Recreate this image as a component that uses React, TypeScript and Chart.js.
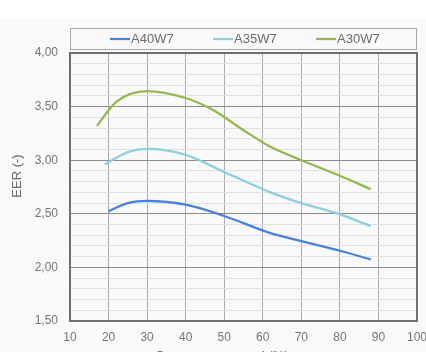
import React, { useEffect, useRef } from "react";
import { Chart, registerables } from "chart.js";

Chart.register(...registerables);

// ---- Data ----
const seriesNames = ["A40W7", "A35W7", "A30W7"];
const seriesColors = ["#4a80d8", "#8dcfe2", "#94b84e"];

const xA40 = [20, 25, 30, 40, 50, 62, 70, 80, 88];
const yA40 = [2.525, 2.6, 2.62, 2.585, 2.48, 2.32, 2.245, 2.155, 2.075];

const xA35 = [19, 25, 30, 40, 50, 62, 70, 80, 88];
const yA35 = [2.96, 3.075, 3.105, 3.05, 2.89, 2.7, 2.6, 2.495, 2.385];

const xA30 = [17, 22, 30, 40, 47, 55, 62, 70, 80, 88];
const yA30 = [3.32, 3.545, 3.645, 3.58, 3.47, 3.28, 3.125, 3.0, 2.855, 2.73];

const xMin = 10;
const xMax = 100;
const xStep = 10;
const yMin = 1.5;
const yMax = 4.0;
const yMinorStep = 0.1;
const yMajorStep = 0.5;

const yTitle = "EER (-)";
const xTitle = "Compressor speed (%)";

const FONT = "'Liberation Sans', Arial, sans-serif";
const TEXT_COLOR = "#767676";

const isMajor = (v: number) =>
  Math.abs(v / yMajorStep - Math.round(v / yMajorStep)) < 1e-6;
const fmt = (v: number) => v.toFixed(2).replace(".", ",");

export default function App() {
  const ref = useRef<HTMLCanvasElement>(null);

  useEffect(() => {
    if (!ref.current) return;

    const decor = {
      id: "decor",
      beforeDraw(chart: any) {
        const ctx = chart.ctx;
        ctx.save();
        ctx.fillStyle = "#ffffff";
        ctx.fillRect(0, 0, chart.width, chart.height);
        ctx.fillStyle = "#f9f9f9";
        ctx.fillRect(0, 18, chart.width, chart.height - 18);
        ctx.restore();
      },
      beforeDatasetsDraw(chart: any) {
        const ctx = chart.ctx;
        const { left, top, right, bottom } = chart.chartArea;
        ctx.save();
        ctx.strokeStyle = "#707070";
        ctx.lineWidth = 2;
        ctx.strokeRect(left, top, right - left, bottom - top);
        ctx.restore();
      },
      afterDraw(chart: any) {
        const ctx = chart.ctx;
        const { left, right } = chart.chartArea;
        ctx.save();
        // legend box
        ctx.strokeStyle = "#a8a8a8";
        ctx.lineWidth = 1;
        ctx.strokeRect(left + 0.5, 28.5, right - left - 1, 21);
        // legend items
        const starts = [110, 213, 316];
        ctx.font = `13px ${FONT}`;
        ctx.textBaseline = "middle";
        ctx.textAlign = "left";
        seriesNames.forEach((name, i) => {
          ctx.strokeStyle = seriesColors[i];
          ctx.lineWidth = 2.25;
          ctx.beginPath();
          ctx.moveTo(starts[i], 39);
          ctx.lineTo(starts[i] + 20, 39);
          ctx.stroke();
          ctx.fillStyle = "#6a6a6a";
          ctx.fillText(name, starts[i] + 21, 39.5);
        });
        // y title
        ctx.fillStyle = "#6a6a6a";
        ctx.save();
        ctx.translate(17, 176);
        ctx.rotate(-Math.PI / 2);
        ctx.textAlign = "center";
        ctx.textBaseline = "middle";
        ctx.font = `13px ${FONT}`;
        ctx.fillText(yTitle, 0, 0);
        ctx.restore();
        // x title (mostly below the visible area)
        ctx.textAlign = "left";
        ctx.textBaseline = "alphabetic";
        ctx.font = `13px ${FONT}`;
        ctx.fillText(xTitle, 155, 359.5);
        ctx.restore();
      },
    };

    const mk = (xs: number[], ys: number[]) => xs.map((x, i) => ({ x, y: ys[i] }));

    const chart = new Chart(ref.current, {
      type: "line",
      data: {
        datasets: [
          { label: seriesNames[0], data: mk(xA40, yA40) },
          { label: seriesNames[1], data: mk(xA35, yA35) },
          { label: seriesNames[2], data: mk(xA30, yA30) },
        ].map((d, i) => ({
          ...d,
          borderColor: seriesColors[i],
          backgroundColor: seriesColors[i],
          borderWidth: 2.25,
          pointRadius: 0,
          cubicInterpolationMode: "monotone",
          fill: false,
        })),
      },
      options: {
        responsive: false,
        animation: false,
        devicePixelRatio: 1,
        layout: { padding: { top: 53, right: 9, bottom: 0, left: 0 } },
        plugins: {
          legend: { display: false },
          tooltip: { enabled: false },
          title: { display: false },
        },
        scales: {
          x: {
            type: "linear",
            min: xMin,
            max: xMax,
            ticks: {
              stepSize: xStep,
              autoSkip: false,
              maxRotation: 0,
              padding: 9,
              color: TEXT_COLOR,
              font: { size: 12, family: FONT },
            },
            grid: { color: "#aaaaaa", lineWidth: 1, drawTicks: false },
            border: { display: false },
            afterFit: (s: any) => {
              s.height = 31;
              s.paddingLeft = 0;
              s.paddingRight = 0;
            },
          },
          y: {
            type: "linear",
            min: yMin,
            max: yMax,
            ticks: {
              stepSize: yMinorStep,
              autoSkip: false,
              padding: 12,
              color: TEXT_COLOR,
              font: { size: 12, family: FONT },
              callback: (v: any) => (isMajor(Number(v)) ? fmt(Number(v)) : ""),
            },
            grid: {
              color: (c: any) => (isMajor(c.tick.value) ? "#8c8c8c" : "#e0e0e0"),
              lineWidth: 1,
              drawTicks: false,
            },
            border: { display: false },
            afterFit: (s: any) => {
              s.width = 70;
            },
          },
        },
      },
      plugins: [decor],
    } as any);

    return () => chart.destroy();
  }, []);

  return (
    <div style={{ position: "absolute", left: 0, top: 0, width: 426, height: 352 }}>
      <canvas ref={ref} width={426} height={352} style={{ display: "block" }} />
    </div>
  );
}
